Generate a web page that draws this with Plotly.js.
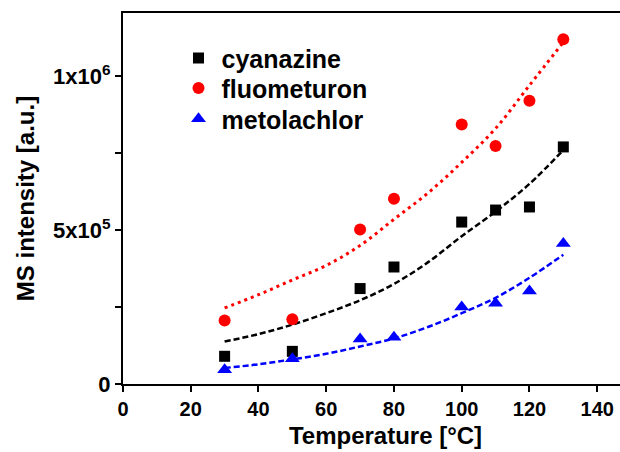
<!DOCTYPE html>
<html>
<head>
<meta charset="utf-8">
<script src="https://cdn.plot.ly/plotly-3.0.1.min.js"></script>
<style>html,body{margin:0;padding:0;overflow:hidden;background:#fff;}#chart{width:648px;height:452px;}</style>
</head>
<body>
<div id="chart"></div>
<script>
// Measured data
const temps = [30, 50, 70, 80, 100, 110, 120, 130];
const cyanazine = [90000, 106000, 310000, 380000, 526000, 565000, 575000, 770000];
const fluometuron = [206000, 210000, 502000, 602000, 843000, 773000, 920000, 1120000];
const metolachlor = [46000, 82000, 146000, 152000, 250000, 262000, 302000, 456000];

// Fit curves
const fitTemps = [30, 40, 50, 60, 70, 80, 90, 100, 110, 120, 130];
const cyanazineFit = [138000, 162000, 193000, 230000, 272000, 325000, 395000, 480000, 560000, 650000, 760000];
const fluometuronFit = [247000, 290000, 338000, 385000, 450000, 535000, 620000, 720000, 830000, 970000, 1110000];
const metolachlorFit = [52000, 64000, 80000, 98000, 122000, 148000, 185000, 230000, 280000, 345000, 420000];

const xTicks = [0, 20, 40, 60, 80, 100, 120, 140];
const yTickVals = [0, 500000, 1000000];
const yTickText = ['0', '5x10<sup>5</sup>', '1x10<sup>6</sup>'];
const yMinorVals = [250000, 750000];

const FONT = 'Liberation Sans, Arial, sans-serif';
const bold = (s, c) => ({family: FONT, size: s, color: c || '#000', weight: 'bold'});

const traces = [
  {x: fitTemps, y: cyanazineFit, mode: 'lines', line: {color: '#000000', width: 2.5, dash: '6px,3px', shape: 'spline'}, showlegend: false, hoverinfo: 'skip'},
  {x: fitTemps, y: fluometuronFit, mode: 'lines', line: {color: '#ff0000', width: 3, dash: '3px,4px', shape: 'spline'}, showlegend: false, hoverinfo: 'skip'},
  {x: fitTemps, y: metolachlorFit, mode: 'lines', line: {color: '#0000ff', width: 2.5, dash: '6px,3px', shape: 'spline'}, showlegend: false, hoverinfo: 'skip'},
  {x: temps, y: cyanazine, name: 'cyanazine', legend: 'legend', mode: 'markers', marker: {symbol: 'square', size: 11, color: '#000000'}},
  {x: temps, y: fluometuron, name: 'fluometuron', legend: 'legend2', mode: 'markers', marker: {symbol: 'circle', size: 12, color: '#ff0000'}},
  {x: temps, y: metolachlor, name: 'metolachlor', legend: 'legend3', mode: 'markers', marker: {symbol: 'triangle-up', size: 13, color: '#0000ff'}}
];

const legendBase = {x: 0.10, xanchor: 'left', yanchor: 'top', font: bold(25), bgcolor: 'rgba(0,0,0,0)', itemwidth: 36};

const layout = {
  width: 648, height: 452,
  margin: {l: 123, r: 0, t: 13, b: 68},
  paper_bgcolor: '#ffffff', plot_bgcolor: '#ffffff',
  showlegend: true,
  legend: Object.assign({}, legendBase, {y: 0.94}),
  legend2: Object.assign({}, legendBase, {y: 0.859}),
  legend3: Object.assign({}, legendBase, {y: 0.776}),
  xaxis: {
    range: [0, 155], tickmode: 'array', tickvals: xTicks, ticktext: xTicks.map(String),
    showline: true, linecolor: '#000', linewidth: 2, mirror: true,
    ticks: 'outside', ticklen: 6, tickwidth: 2, tickcolor: '#000',
    showgrid: false, zeroline: false,
    tickfont: bold(20),
    title: {text: 'Temperature [°C]', font: bold(24), standoff: 8}
  },
  yaxis: {
    range: [0, 1205000], tickmode: 'array', tickvals: yTickVals, ticktext: yTickText,
    showline: true, linecolor: '#000', linewidth: 2,
    ticks: 'outside', ticklen: 6, tickwidth: 2, tickcolor: '#000',
    minor: {tickmode: 'array', tickvals: yMinorVals, ticks: 'outside', ticklen: 6, tickwidth: 2, tickcolor: '#000', showgrid: false},
    showgrid: false, zeroline: false,
    tickfont: bold(22),
    title: {text: 'MS intensity [a.u.]', font: bold(24), standoff: 12}
  }
};

Plotly.newPlot('chart', traces, layout, {displayModeBar: false, staticPlot: true});
</script>
</body>
</html>
